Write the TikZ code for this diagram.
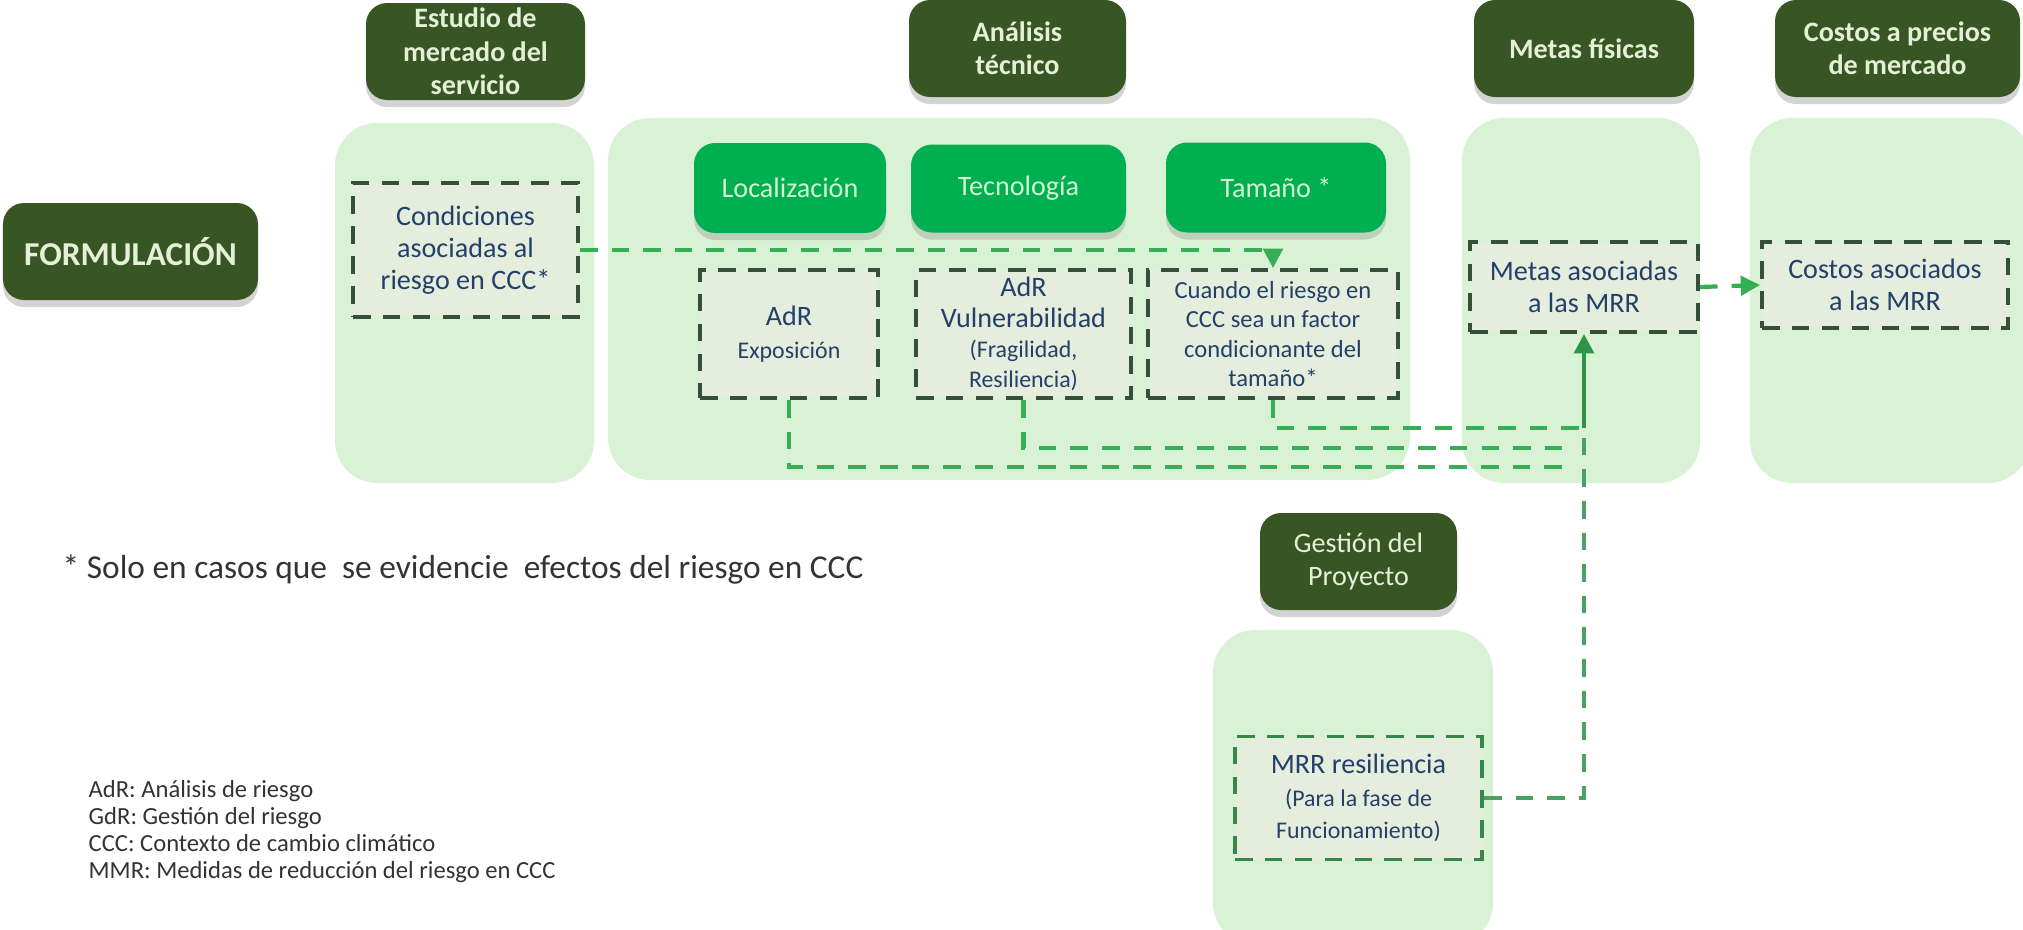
\documentclass[tikz,border=0pt]{standalone}
\usepackage{fontspec}
\setmainfont{Carlito}
\usetikzlibrary{arrows.meta,shadows}
\definecolor{hdr}{HTML}{375623}
\definecolor{hdrtext}{HTML}{E6F0D8}
\definecolor{mid}{HTML}{00B050}
\definecolor{midtext}{HTML}{D2F5D2}
\definecolor{panel}{HTML}{D9F2D6}
\definecolor{boxfill}{HTML}{E5EDDC}
\definecolor{boxline}{HTML}{34503A}
\definecolor{boxtext}{HTML}{23406B}
\definecolor{lnk}{HTML}{36AE55}
\definecolor{notetext}{HTML}{333333}
\newcommand{\smalltxt}{\fontsize{6.8}{7.8}\selectfont}
\begin{document}
\begin{tikzpicture}
	\tikzstyle{header} = [rounded corners=6pt, inner sep=0, fill=hdr, text=hdrtext, align=center,
	font=\bfseries\fontsize{8}{9.5}\selectfont, drop shadow={opacity=0.35,shadow xshift=0pt,shadow yshift=-2pt}]
	\tikzstyle{choice} = [rounded corners=6pt, inner sep=0, fill=mid, text=midtext, align=center,
	font=\fontsize{8}{9.5}\selectfont, drop shadow={opacity=0.3,shadow xshift=0pt,shadow yshift=-2pt}]
	\tikzstyle{dbox} = [inner sep=0, fill=boxfill, draw=boxline, line width=1.1pt, dash pattern=on 5pt off 3.5pt,
	text=boxtext, align=center, font=\fontsize{8}{9.2}\selectfont]
	\tikzstyle{link} = [draw=lnk, line width=1.2pt, dash pattern=on 5pt off 4pt]
	\tikzstyle{linkarrow} = [link, -{Triangle[length=5.5pt,width=5.5pt]}]
	\tikzstyle{note} = [inner sep=0, text=notetext, align=left]
\useasboundingbox (0,0) rectangle (20.23,-9.29);
% panels
\fill [rounded corners=12pt, fill=panel] (3.35,-1.23) rectangle (5.94,-4.83);
\fill [rounded corners=12pt, fill=panel] (6.08,-1.18) rectangle (14.10,-4.80);
\fill [rounded corners=12pt, fill=panel] (14.62,-1.18) rectangle (17.00,-4.83);
\fill [rounded corners=12pt, fill=panel] (17.50,-1.18) rectangle (20.30,-4.83);
\fill [rounded corners=12pt, fill=panel] (12.13,-6.30) rectangle (14.93,-9.45);
% headers
\node [header, minimum width=2.55cm, minimum height=0.97cm, font=\bfseries\fontsize{9.5}{11}\selectfont] (form) at (1.305,-2.515) {FORMULACIÓN};
\node [header, minimum width=2.19cm, minimum height=0.97cm] (h1) at (4.755,-0.515) {Estudio de\\mercado del\\servicio};
\node [header, minimum width=2.17cm, minimum height=0.97cm] (h2) at (10.175,-0.485) {Análisis\\técnico};
\node [header, minimum width=2.20cm, minimum height=0.97cm] (h3) at (15.84,-0.485) {Metas físicas};
\node [header, minimum width=2.45cm, minimum height=0.97cm] (h4) at (18.975,-0.485) {Costos a precios\\de mercado};
\node [header, minimum width=1.97cm, minimum height=0.97cm, font=\fontsize{8}{9.5}\selectfont] (h5) at (13.585,-5.615) {Gestión del\\Proyecto};
% technical choices
\node [choice, minimum width=1.92cm, minimum height=0.90cm] (g1) at (7.90,-1.88) {Localización};
\node [choice, minimum width=2.15cm, minimum height=0.88cm] (g2) at (10.185,-1.885) {Tecnología};
\node [choice, minimum width=2.20cm, minimum height=0.90cm] (g3) at (12.76,-1.875) {Tamaño *};
% dashed boxes
\node [dbox, minimum width=2.25cm, minimum height=1.34cm] (d1) at (4.655,-2.50) {Condiciones\\asociadas al\\riesgo en CCC*};
\node [dbox, minimum width=1.78cm, minimum height=1.28cm] (d2) at (7.89,-3.34) {AdR\\\smalltxt Exposición};
\node [dbox, minimum width=2.15cm, minimum height=1.28cm, font=\fontsize{8}{8.6}\selectfont] (d3) at (10.235,-3.34) {AdR\\Vulnerabilidad\\\smalltxt (Fragilidad,\\\smalltxt Resiliencia)};
\node [dbox, minimum width=2.50cm, minimum height=1.28cm, font=\fontsize{7}{8.3}\selectfont] (d4) at (12.73,-3.34) {Cuando el riesgo en\\CCC sea un factor\\condicionante del\\tamaño*};
\node [dbox, minimum width=2.28cm, minimum height=0.90cm] (d5) at (15.84,-2.87) {Metas asociadas\\a las MRR};
\node [dbox, minimum width=2.46cm, minimum height=0.86cm] (d6) at (18.85,-2.85) {Costos asociados\\a las MRR};
\node [dbox, draw=lnk!60!boxline, minimum width=2.47cm, minimum height=1.23cm] (d7) at (13.585,-7.98) {MRR resiliencia\\\smalltxt (Para la fase de\\\smalltxt Funcionamiento)};
% junctions
\coordinate (j1) at (15.73,-4.67);
\coordinate (j2) at (15.73,-4.48);
\coordinate (j3) at (15.84,-4.28);
% connectors
\draw [linkarrow] (d1.east) -| (d4.north);
\draw [link] (d2.south) |- (j1);
\draw [link] (d3.south) |- (j2);
\draw [link] (d4.south) |- (j3);
\draw [link, draw=lnk!70!gray] (d7.east) -| (j3);
\draw [draw=lnk!85!black, line width=1.3pt, -{Triangle[length=5.5pt,width=5.5pt]}] (j3) -- (d5.south);
\draw [linkarrow] (d5.east) -- (d6.west);
% notes
\node [note, anchor=west, font=\fontsize{9.5}{11}\selectfont] (fn) at (0.62,-5.70) {* Solo en casos que\ \ se evidencie\ \ efectos del riesgo en CCC};
\node [note, anchor=north west, font=\fontsize{7}{7.7}\selectfont] (abbr) at (0.88,-7.80) {AdR: Análisis de riesgo\\GdR: Gestión del riesgo\\CCC: Contexto de cambio climático\\MMR: Medidas de reducción del riesgo en CCC};
\end{tikzpicture}
\end{document}
